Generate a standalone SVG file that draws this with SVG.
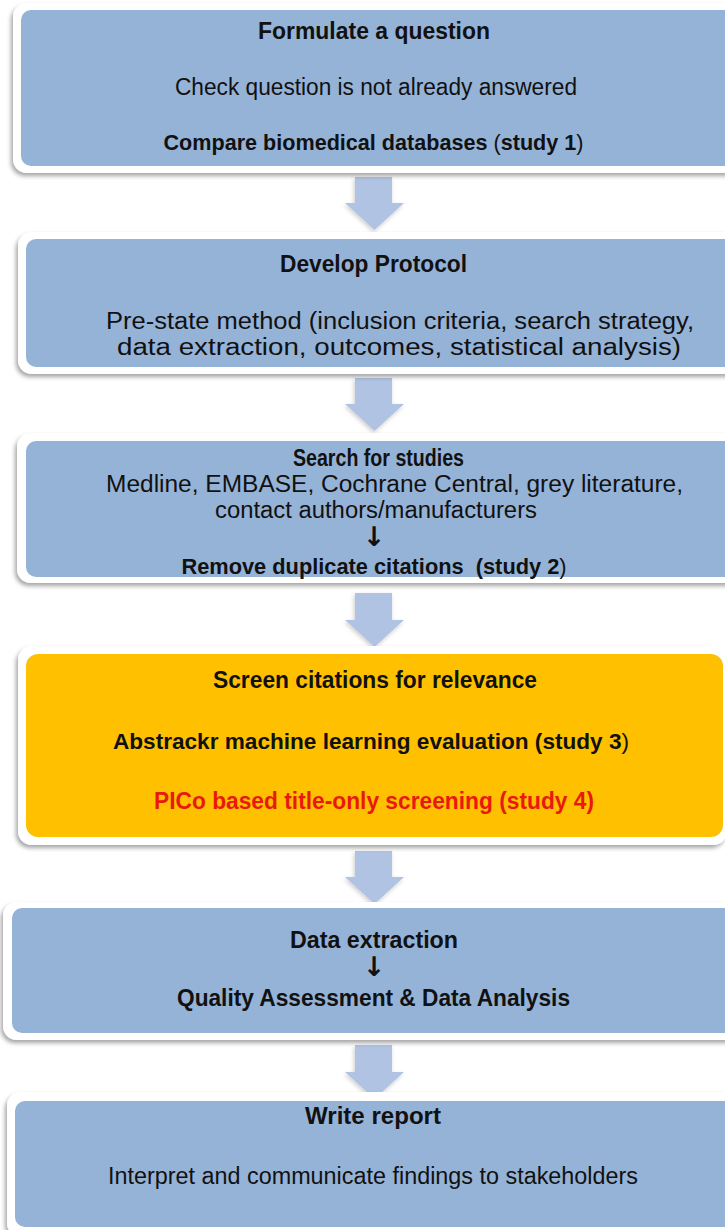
<svg xmlns="http://www.w3.org/2000/svg" width="725" height="1230" viewBox="0 0 725 1230">
<style>
.outer{fill:#ffffff;filter:url(#sh)}
.blue{fill:#95B3D7}
.orange{fill:#FFC000}
.arr{fill:#B0C3E2;filter:url(#sh2)}
text{font-family:"Liberation Sans",Arial,sans-serif;font-size:23px;fill:#111;text-anchor:middle}
.b{font-weight:bold}
.r{fill:#E8190F}
.sym{font-family:"DejaVu Sans",sans-serif;font-weight:bold;font-size:27px}
</style>
<defs>
<filter id="sh" x="-5%" y="-10%" width="110%" height="125%">
<feDropShadow dx="-2" dy="3" stdDeviation="2" flood-color="#000" flood-opacity="0.35"/>
</filter>
<filter id="sh2" x="-30%" y="-30%" width="160%" height="160%">
<feDropShadow dx="-1" dy="2" stdDeviation="2" flood-color="#000" flood-opacity="0.2"/>
</filter>
</defs>
<rect width="725" height="1230" fill="#ffffff"/>

<g id="connectors">
<path class="arr" d="M355,177 H392 V203 H404 L374.5,230 L345,203 H355 Z"/>
<path class="arr" d="M355,378 H392 V404 H404 L374.5,431 L345,404 H355 Z"/>
<path class="arr" d="M355,593 H392 V620 H404 L374.5,647 L345,620 H355 Z"/>
<path class="arr" d="M355,851 H392 V877 H404 L374.5,904 L345,877 H355 Z"/>
<path class="arr" d="M355,1045 H392 V1072 H404 L374.5,1099 L345,1072 H355 Z"/>
</g>

<g id="node1">
<rect class="outer" x="13" y="3" width="730" height="170" rx="14"/>
<rect class="blue" x="21" y="10" width="720" height="156" rx="10"/>
<text class="b" x="374" y="39" textLength="232" lengthAdjust="spacingAndGlyphs">Formulate a question</text>
<text x="376" y="95" textLength="402" lengthAdjust="spacingAndGlyphs">Check question is not already answered</text>
<text x="373.5" y="150" style="font-size:21.6px"><tspan class="b">Compare biomedical databases</tspan> (<tspan class="b">study 1</tspan>)</text>
</g>

<g id="node2">
<rect class="outer" x="18" y="232" width="725" height="142" rx="14"/>
<rect class="blue" x="26" y="239" width="715" height="128" rx="10"/>
<text class="b" x="373.5" y="272" textLength="187" lengthAdjust="spacingAndGlyphs">Develop Protocol</text>
<text x="400" y="329" textLength="588" lengthAdjust="spacingAndGlyphs">Pre-state method (inclusion criteria, search strategy,</text>
<text x="399" y="355" textLength="564" lengthAdjust="spacingAndGlyphs">data extraction, outcomes, statistical analysis)</text>
</g>

<g id="node3">
<rect class="outer" x="17" y="433" width="725" height="150" rx="14"/>
<rect class="blue" x="26" y="441" width="715" height="136" rx="10"/>
<text class="b" x="378.5" y="466" textLength="171" lengthAdjust="spacingAndGlyphs">Search for studies</text>
<text x="394.5" y="492" textLength="577" lengthAdjust="spacingAndGlyphs">Medline, EMBASE, Cochrane Central, grey literature,</text>
<text x="376" y="518" textLength="322" lengthAdjust="spacingAndGlyphs">contact authors/manufacturers</text>
<text class="sym" x="374" y="546">↓</text>
<text x="374" y="574" style="font-size:21.8px"><tspan class="b">Remove duplicate citations &#160;(study 2</tspan>)</text>
</g>

<g id="node4">
<rect class="outer" x="18" y="646" width="709" height="199" rx="14"/>
<rect class="orange" x="26" y="654" width="697" height="183" rx="12"/>
<text class="b" x="375" y="688" textLength="324" lengthAdjust="spacingAndGlyphs">Screen citations for relevance</text>
<text x="371" y="749" style="font-size:22.6px"><tspan class="b">Abstrackr machine learning evaluation (study 3</tspan>)</text>
<text class="b r" x="374" y="809" textLength="440" lengthAdjust="spacingAndGlyphs">PICo based title-only screening (study 4)</text>
</g>

<g id="node5">
<rect class="outer" x="3" y="902" width="740" height="138" rx="14"/>
<rect class="blue" x="12" y="908" width="730" height="125" rx="10"/>
<text class="b" x="374" y="948" textLength="168" lengthAdjust="spacingAndGlyphs">Data extraction</text>
<text class="sym" x="374" y="976">↓</text>
<text class="b" x="373.5" y="1006" textLength="393" lengthAdjust="spacingAndGlyphs">Quality Assessment &amp; Data Analysis</text>
</g>

<g id="node6">
<rect class="outer" x="7" y="1092" width="736" height="145" rx="14"/>
<rect class="blue" x="15" y="1101" width="728" height="126" rx="10"/>
<text class="b" x="373" y="1124" textLength="136" lengthAdjust="spacingAndGlyphs">Write report</text>
<text x="373" y="1184" textLength="530" lengthAdjust="spacingAndGlyphs">Interpret and communicate findings to stakeholders</text>
</g>
</svg>
